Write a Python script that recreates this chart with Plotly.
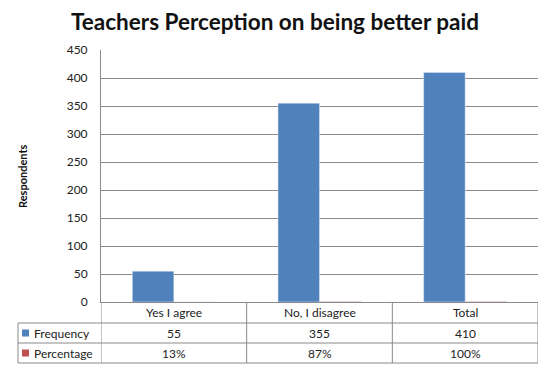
import plotly.graph_objects as go

categories = ["Yes I agree", "No, I disagree", "Total"]
frequency = [55, 355, 410]
percentage = [0.13, 0.87, 1.00]
percentage_labels = ["13%", "87%", "100%"]
series_names = ["Frequency", "Percentage"]
y_ticks = [0, 50, 100, 150, 200, 250, 300, 350, 400, 450]

BLUE = "#4F81BD"
RED = "#C0504D"
GRID = "#8a8a8a"
FONT = "Lato"

W, H = 548, 371
L, R, T, B = 101, 10, 50, 69
pw, ph = W - L - R, H - T - B

def px(x):
    return (x - L) / pw

def py(y):
    return (H - B - y) / ph

fig = go.Figure()
fig.add_trace(go.Bar(x=categories, y=frequency, name=series_names[0], marker_color=BLUE))
fig.add_trace(go.Bar(x=categories, y=percentage, name=series_names[1], marker_color=RED))

shapes = []
line = dict(color=GRID, width=1)
# horizontal table lines
for yy in [323, 343, 363]:
    shapes.append(dict(type="line", xref="paper", yref="paper", x0=px(18), x1=1, y0=py(yy), y1=py(yy), line=line))
# vertical lines at category boundaries
n = len(categories)
for i in range(n + 1):
    shapes.append(dict(type="line", xref="x", yref="paper", x0=i - 0.5, x1=i - 0.5, y0=0, y1=py(363), line=line))
shapes.append(dict(type="line", xref="paper", yref="paper", x0=px(18), x1=px(18), y0=py(323), y1=py(363), line=line))
# legend keys
for k, (yc, col) in enumerate([(333, BLUE), (353, RED)]):
    shapes.append(dict(type="rect", xref="paper", yref="paper", x0=px(22), x1=px(29), y0=py(yc - 3.5), y1=py(yc + 3.5),
                       fillcolor=col, line=dict(width=0)))

annotations = []
tf = dict(family=FONT, size=12, color="#222222")
for i, c in enumerate(categories):
    annotations.append(dict(x=c, y=py(312.5), xref="x", yref="paper", text=c, showarrow=False, font=tf, yanchor="middle"))
    annotations.append(dict(x=c, y=py(333), xref="x", yref="paper", text=str(frequency[i]), showarrow=False, font=tf, yanchor="middle"))
    annotations.append(dict(x=c, y=py(353), xref="x", yref="paper", text=percentage_labels[i], showarrow=False, font=tf, yanchor="middle"))
for name, yc in zip(series_names, [333, 353]):
    annotations.append(dict(x=px(32), y=py(yc), xref="paper", yref="paper", text=name, showarrow=False, font=tf,
                            xanchor="left", yanchor="middle"))
annotations.append(dict(x=px(22), y=0.5, xref="paper", yref="paper", text="<b>Respondents</b>", textangle=-90,
                        showarrow=False, font=dict(family=FONT, size=11, color="#111111"), xanchor="center", yanchor="middle"))

fig.update_layout(
    width=W, height=H,
    margin=dict(l=L, r=R, t=T, b=B),
    paper_bgcolor="white", plot_bgcolor="white",
    title=dict(text="<b>Teachers Perception on being better paid</b>", x=275 / W, xanchor="center",
               y=1 - 22 / H, yanchor="middle", font=dict(family=FONT, size=22.5, color="#111111")),
    showlegend=False,
    barmode="group", bargap=0.43, bargroupgap=0,
    xaxis=dict(showticklabels=False, ticks="", showgrid=False, showline=True, linecolor=GRID, linewidth=1,
               range=[-0.5, n - 0.5], zeroline=False),
    yaxis=dict(range=[0, 450], tickvals=y_ticks, showgrid=True, gridcolor=GRID, gridwidth=1,
               showline=True, linecolor=GRID, linewidth=1, ticks="", zeroline=False,
               tickfont=dict(family=FONT, size=12, color="#222222"), ticklabelstandoff=10),
    shapes=shapes, annotations=annotations,
)
fig.write_html("out.html")
